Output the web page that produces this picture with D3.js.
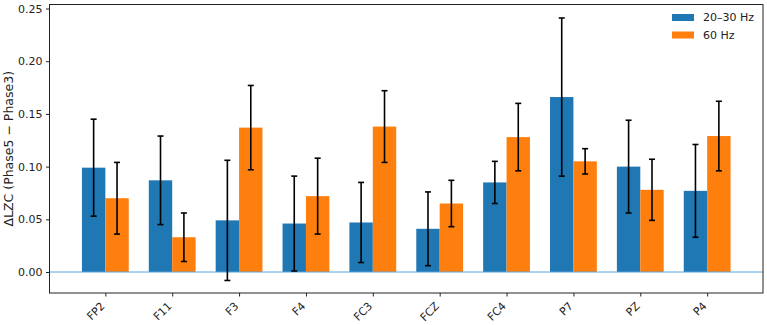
<!DOCTYPE html>
<html>
<head>
<meta charset="utf-8">
<script src="https://cdn.jsdelivr.net/npm/d3@7"></script>
<style>
  body { margin: 0; background: #fff; }
  svg { display: block; font-family: "DejaVu Sans", sans-serif; }
</style>
</head>
<body>
<svg id="chart" width="767" height="325"></svg>
<script>
// channel names along x
const channels = ['FP2', 'F11', 'F3', 'F4', 'FC3', 'FCZ', 'FC4', 'P7', 'PZ', 'P4'];
const seriesNames = ['20–30 Hz', '60 Hz'];
// mean delta LZC per channel
const lowBand = [0.099, 0.087, 0.049, 0.046, 0.047, 0.041, 0.085, 0.166, 0.100, 0.077];
const gammaBand = [0.070, 0.033, 0.137, 0.072, 0.138, 0.065, 0.128, 0.105, 0.078, 0.129];
// error bar half widths
const lowErr = [0.046, 0.042, 0.057, 0.045, 0.038, 0.035, 0.020, 0.075, 0.044, 0.044];
const gammaErr = [0.034, 0.023, 0.040, 0.036, 0.034, 0.022, 0.032, 0.012, 0.029, 0.033];
const yTicks = [0.00, 0.05, 0.10, 0.15, 0.20, 0.25];

const colors = ['#1f77b4', '#ff7f0e'];
const svg = d3.select('#chart');
const margin = {left: 49.5, right: 4, top: 4.5, bottom: 32};
const W = 767, H = 325;
const barW = 0.35;

// index scale, same padding matplotlib puts round the bars
const x = d3.scaleLinear()
  .domain([-0.835, channels.length - 1 + 0.835])
  .range([margin.left, W - margin.right]);
const y = d3.scaleLinear()
  .domain([-0.0199, 0.2538])
  .range([H - margin.bottom, margin.top]);

const series = [
  {name: seriesNames[0], vals: lowBand, err: lowErr, off: -barW / 2, color: colors[0]},
  {name: seriesNames[1], vals: gammaBand, err: gammaErr, off: barW / 2, color: colors[1]}
];

series.forEach(s => {
  svg.append('g').selectAll('rect')
    .data(s.vals)
    .enter().append('rect')
    .attr('x', (d, i) => x(i + s.off - barW / 2))
    .attr('width', x(barW) - x(0))
    .attr('y', d => y(d))
    .attr('height', d => y(0) - y(d))
    .attr('fill', s.color);
});

// zero line
svg.append('line')
  .attr('x1', margin.left).attr('x2', W - margin.right)
  .attr('y1', y(0)).attr('y2', y(0))
  .attr('stroke', '#5aa5dc').attr('stroke-width', 1);

// error bars
series.forEach(s => {
  const g = svg.append('g').attr('stroke', '#000').attr('stroke-width', 1.6);
  s.vals.forEach((v, i) => {
    const cx = x(i + s.off);
    const lo = y(v - s.err[i]), hi = y(v + s.err[i]);
    g.append('line').attr('x1', cx).attr('x2', cx).attr('y1', lo).attr('y2', hi);
    g.append('line').attr('x1', cx - 3).attr('x2', cx + 3).attr('y1', lo).attr('y2', lo);
    g.append('line').attr('x1', cx - 3).attr('x2', cx + 3).attr('y1', hi).attr('y2', hi);
  });
});

// axes
const yAxis = svg.append('g')
  .attr('transform', `translate(${margin.left},0)`)
  .call(d3.axisLeft(y).tickValues(yTicks).tickFormat(d3.format('.2f')).tickSize(3.5).tickPadding(3.5));
yAxis.select('.domain').remove();

const xAxis = svg.append('g')
  .attr('transform', `translate(0,${H - margin.bottom})`)
  .call(d3.axisBottom(x).tickValues(d3.range(channels.length)).tickFormat(i => channels[i]).tickSize(3.5));
xAxis.select('.domain').remove();
xAxis.selectAll('text')
  .attr('text-anchor', 'end')
  .attr('dy', '0.35em')
  .attr('transform', function (i) { return 'translate(-3,' + 11 + ') rotate(-45)'; })
  .attr('y', 0).attr('x', 0);

svg.selectAll('.tick text').attr('font-size', 11).attr('fill', '#222').attr('font-family', 'DejaVu Sans');
svg.selectAll('.tick line').attr('stroke', '#222');

// frame
svg.append('rect')
  .attr('x', margin.left).attr('y', margin.top)
  .attr('width', W - margin.right - margin.left)
  .attr('height', H - margin.bottom - margin.top)
  .attr('fill', 'none').attr('stroke', '#222').attr('stroke-width', 1);

// y label
svg.append('text')
  .attr('transform', `translate(9,${(margin.top + H - margin.bottom) / 2}) rotate(-90)`)
  .attr('text-anchor', 'middle')
  .attr('dy', '0.35em')
  .attr('font-size', 12.5)
  .attr('fill', '#222')
  .text('ΔLZC (Phase5 − Phase3)');

// legend
const leg = svg.append('g').attr('transform', 'translate(672,14)');
series.forEach((s, k) => {
  leg.append('rect').attr('x', 0).attr('y', k * 17.5).attr('width', 22).attr('height', 7).attr('fill', s.color);
  leg.append('text').attr('x', 31).attr('y', k * 17.5 + 3.5).attr('dy', '0.35em')
    .attr('font-size', 11).attr('fill', '#222').text(s.name);
});
</script>
</body>
</html>
